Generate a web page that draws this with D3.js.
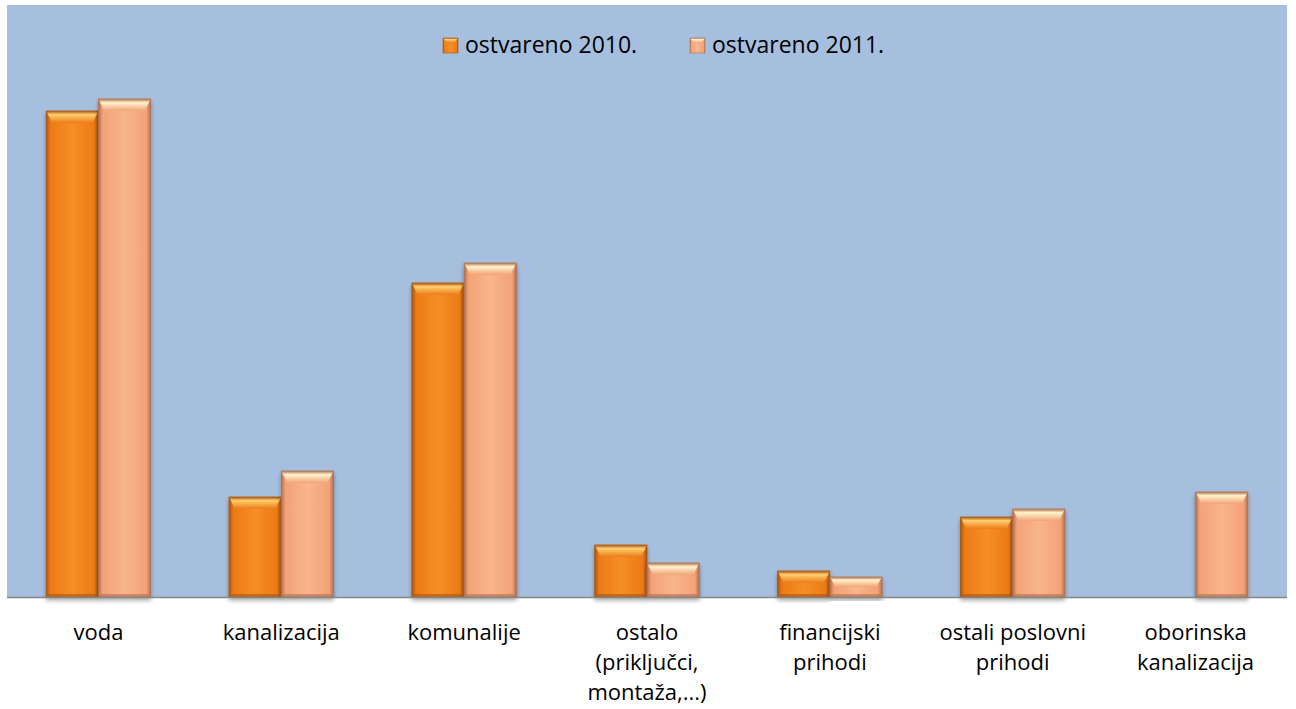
<!DOCTYPE html>
<html>
<head>
<meta charset="utf-8">
<script src="https://cdn.jsdelivr.net/npm/d3@7"></script>
<style>
  body { margin: 0; background: #fff; }
  svg text { font-family: "Open Sans", sans-serif; fill: #000; }
</style>
</head>
<body>
<svg width="1296" height="709"></svg>
<script>
// categories (lines of each x label)
const categories = [
  ["voda"],
  ["kanalizacija"],
  ["komunalije"],
  ["ostalo", "(priključci,", "montaža,...)"],
  ["financijski", "prihodi"],
  ["ostali poslovni", "prihodi"],
  ["oborinska", "kanalizacija"]
];
const seriesNames = ["ostvareno 2010.", "ostvareno 2011."];
const values2010 = [486, 100, 314, 52, 26, 80, 0];
const values2011 = [498, 126, 334, 34, 20, 88, 105];

const plot = {left: 7, top: 5, right: 1287, bottom: 597};

var svg = d3.select("svg");
var defs = svg.append("defs");

// colours for each series: base, edge, highlight
var looks = [
  {base: "#EC7A16", mid: "#F68E26", edge: "#A85510", hi: "#FFCE6E"},
  {base: "#F2A276", mid: "#F9B58C", edge: "#B07050", hi: "#FFF3CC"}
];

looks.forEach((c, i) => {
  var g = defs.append("linearGradient").attr("id", "body" + i)
    .attr("x1", 0).attr("x2", 1).attr("y1", 0).attr("y2", 0);
  g.append("stop").attr("offset", "0").attr("stop-color", c.edge);
  g.append("stop").attr("offset", "0.08").attr("stop-color", c.base);
  g.append("stop").attr("offset", "0.5").attr("stop-color", c.mid);
  g.append("stop").attr("offset", "0.92").attr("stop-color", c.base);
  g.append("stop").attr("offset", "1").attr("stop-color", c.edge);

  var t = defs.append("linearGradient").attr("id", "top" + i)
    .attr("x1", 0).attr("x2", 0).attr("y1", 0).attr("y2", 1);
  t.append("stop").attr("offset", "0").attr("stop-color", c.edge);
  t.append("stop").attr("offset", "0.3").attr("stop-color", c.hi);
  t.append("stop").attr("offset", "1").attr("stop-color", c.base);
});

var shadow = defs.append("filter").attr("id", "shadow")
  .attr("x", "-10%").attr("y", "-10%").attr("width", "120%").attr("height", "130%");
shadow.append("feDropShadow").attr("dx", 0).attr("dy", 3)
  .attr("stdDeviation", 2).attr("flood-color", "#000").attr("flood-opacity", 0.35);

// plot background
svg.append("rect")
  .attr("x", plot.left).attr("y", plot.top)
  .attr("width", plot.right - plot.left).attr("height", plot.bottom - plot.top)
  .attr("fill", "#A7BFDE");

var xScale = d3.scaleBand()
  .domain(d3.range(categories.length))
  .range([plot.left, plot.right])
  .paddingInner(0).paddingOuter(0);

var yScale = d3.scaleLinear()
  .domain([0, 592])
  .range([plot.bottom, plot.top]);

var barW = xScale.bandwidth() / 3.5;

var data = [];
categories.forEach((cat, i) => {
  [values2010[i], values2011[i]].forEach((v, s) => {
    if (v > 0) data.push({cat: i, s: s, v: v});
  });
});

var bars = svg.append("g").attr("class", "bars");

var bar = bars.selectAll("g.bar")
  .data(data)
  .enter().append("g")
  .attr("class", "bar")
  .attr("filter", "url(#shadow)");

function bx(d) { return xScale(d.cat) + xScale.bandwidth() / 2 - barW + d.s * barW; }

bar.append("rect")
  .attr("x", d => bx(d))
  .attr("y", d => yScale(d.v))
  .attr("width", barW)
  .attr("height", d => yScale(0) - yScale(d.v))
  .attr("fill", d => "url(#body" + d.s + ")")
  .attr("stroke", d => looks[d.s].edge)
  .attr("stroke-width", 0.8);

// top bevel
bar.append("path")
  .attr("d", d => {
    var x = bx(d), y = yScale(d.v), h = Math.min(12, (yScale(0) - y) / 2), b = 6;
    return `M${x},${y}L${x + barW},${y}L${x + barW - b},${y + h}L${x + b},${y + h}Z`;
  })
  .attr("fill", d => "url(#top" + d.s + ")");

// bottom edge
bar.append("path")
  .attr("d", d => {
    var x = bx(d), y = yScale(0), b = 3;
    return `M${x},${y}L${x + barW},${y}L${x + barW - b},${y - b}L${x + b},${y - b}Z`;
  })
  .attr("fill", d => looks[d.s].edge)
  .attr("opacity", 0.6);

// x axis line
svg.append("line")
  .attr("x1", plot.left).attr("x2", plot.right)
  .attr("y1", plot.bottom + 0.5).attr("y2", plot.bottom + 0.5)
  .attr("stroke", "#868686").attr("stroke-width", 1.5);

// category labels
var labels = svg.append("g").attr("class", "labels");
categories.forEach((lines, i) => {
  var t = labels.append("text")
    .attr("x", xScale(i) + xScale.bandwidth() / 2)
    .attr("y", 640)
    .attr("text-anchor", "middle")
    .style("font-size", "22px");
  lines.forEach((l, j) => {
    t.append("tspan")
      .attr("x", xScale(i) + xScale.bandwidth() / 2)
      .attr("dy", j === 0 ? 0 : 30)
      .text(l);
  });
});

// legend
var legendX = [443, 690];
var legend = svg.append("g").attr("class", "legend");
seriesNames.forEach((name, i) => {
  var item = legend.append("g").attr("transform", `translate(${legendX[i]}, 38)`);
  item.append("rect").attr("width", 15).attr("height", 15)
    .attr("fill", "url(#body" + i + ")")
    .attr("stroke", looks[i].edge).attr("stroke-width", 0.6);
  item.append("path").attr("d", "M0,0L15,0L11,5L4,5Z").attr("fill", "url(#top" + i + ")");
  item.append("text").attr("x", 22).attr("y", 15)
    .style("font-size", "23px").text(name);
});
</script>
</body>
</html>
